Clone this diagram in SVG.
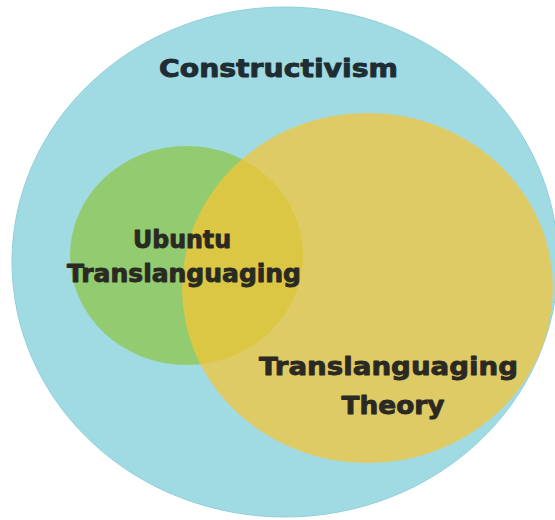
<svg xmlns="http://www.w3.org/2000/svg" width="555" height="520" viewBox="0 0 555 520">
  <style>
    .label { font-family: "DejaVu Sans", "Liberation Sans", Arial, sans-serif; font-weight: bold; text-anchor: middle; stroke-width: 0.9; stroke-linejoin: round; }
    .dark { fill: #1f2d33; stroke: #1f2d33; }
    .ink { fill: #2a2a22; stroke: #2a2a22; }
  </style>
  <rect x="0" y="0" width="555" height="520" fill="#ffffff"/>

  <!-- outer set -->
  <g id="constructivism">
    <ellipse cx="285" cy="262" rx="273" ry="255" fill="#a0dbe4" stroke="#8fcfd9" stroke-width="1"/>
    <text class="label dark" x="278.5" y="77" font-size="24.7" textLength="239" lengthAdjust="spacingAndGlyphs">Constructivism</text>
  </g>

  <!-- inner set, left -->
  <g id="ubuntu-translanguaging">
    <ellipse cx="186.5" cy="255.5" rx="116.5" ry="109.5" fill="#93cc70"/>
  </g>

  <!-- inner set, right (translucent so the overlap reads darker) -->
  <g id="translanguaging-theory">
    <ellipse cx="367.5" cy="288" rx="185.5" ry="175" fill="#fac430" fill-opacity="0.7"/>
    <text class="label ink" x="388.5" y="375" font-size="25.5" textLength="259" lengthAdjust="spacingAndGlyphs">Translanguaging</text>
    <text class="label ink" x="393" y="414" font-size="25.5" textLength="103" lengthAdjust="spacingAndGlyphs">Theory</text>
  </g>

  <!-- left set label drawn on top of the overlap -->
  <g id="ubuntu-translanguaging-label">
    <text class="label ink" x="182" y="248" font-size="24" textLength="98" lengthAdjust="spacingAndGlyphs">Ubuntu</text>
    <text class="label ink" x="184" y="281.5" font-size="24" textLength="234" lengthAdjust="spacingAndGlyphs">Translanguaging</text>
  </g>
</svg>
